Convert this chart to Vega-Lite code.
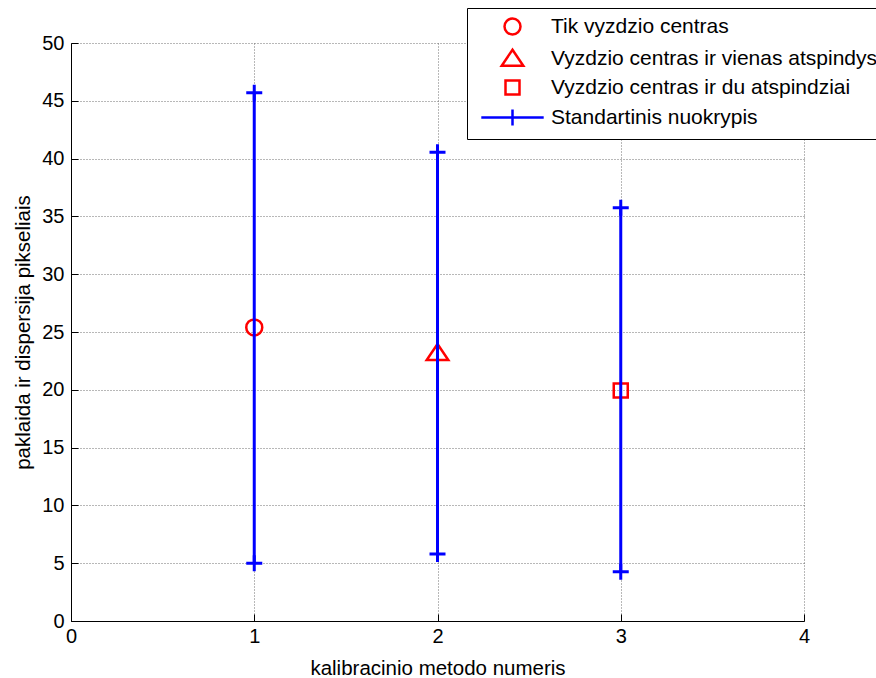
{
  "$schema": "https://vega.github.io/schema/vega-lite/v6.json",
  "width": 733,
  "height": 578,
  "autosize": {"type": "none"},
  "padding": {"left": 71, "top": 43, "right": 72, "bottom": 56},
  "background": "white",
  "config": {
    "font": "Liberation Sans",
    "view": {"stroke": null},
    "point": {"opacity": 1},
    "axis": {
      "domainColor": "black",
      "domainWidth": 1,
      "tickColor": "black",
      "tickSize": -7,
      "tickWidth": 1,
      "labelFontSize": 20,
      "labelColor": "black",
      "labelFont": "Liberation Sans",
      "titleFontSize": 20.5,
      "titleFont": "Liberation Sans",
      "titleFontWeight": "normal",
      "titleColor": "black",
      "gridColor": "#707070",
      "gridDash": [1, 2],
      "gridWidth": 1,
      "gridOpacity": 1
    }
  },
  "data": {
    "values": [
      {"x": 1, "series": "Tik vyzdzio centras", "value": 25.4, "lo": 5.0, "hi": 45.7},
      {"x": 2, "series": "Vyzdzio centras ir vienas atspindys", "value": 23.2, "lo": 5.8, "hi": 40.55},
      {"x": 3, "series": "Vyzdzio centras ir du atspindziai", "value": 19.95, "lo": 4.25, "hi": 35.75}
    ]
  },
  "layer": [
    {
      "mark": {"type": "point", "filled": false, "size": 256, "strokeWidth": 2.5, "opacity": 1},
      "encoding": {
        "x": {
          "field": "x", "type": "quantitative",
          "scale": {"domain": [0, 4], "nice": false},
          "axis": {"values": [0, 1, 2, 3, 4], "format": "d", "title": "kalibracinio metodo numeris", "grid": true, "labelFlush": false, "labelPadding": 12, "titlePadding": 12}
        },
        "y": {
          "field": "value", "type": "quantitative",
          "scale": {"domain": [0, 50], "nice": false},
          "axis": {"values": [0, 5, 10, 15, 20, 25, 30, 35, 40, 45, 50], "format": "d", "title": "paklaida ir dispersija pikseliais", "grid": true, "labelFlush": false, "labelPadding": 14, "titlePadding": 8}
        },
        "shape": {
          "field": "series", "type": "nominal",
          "scale": {
            "domain": ["Tik vyzdzio centras", "Vyzdzio centras ir vienas atspindys", "Vyzdzio centras ir du atspindziai", "Standartinis nuokrypis"],
            "range": [
              "M1,0A1,1,0,1,1,-1,0A1,1,0,1,1,1,0Z",
              "M0,-1.1L1.35,0.9L-1.35,0.9Z",
              "M-0.875,-0.875H0.875V0.875H-0.875Z",
              "M-3.9,0H3.9M0,-1V1"
            ]
          },
          "legend": {
            "orient": "none", "legendX": 396, "legendY": -35, "title": null,
            "strokeColor": "black", "fillColor": "white", "padding": 8,
            "labelFontSize": 21, "labelColor": "black", "labelFont": "Liberation Sans", "labelLimit": 600,
            "symbolSize": 256, "symbolStrokeWidth": 2.5, "symbolOffset": 27, "labelOffset": 28,
            "rowPadding": 4, "symbolFillColor": "transparent"
          }
        },
        "stroke": {
          "field": "series", "type": "nominal",
          "scale": {
            "domain": ["Tik vyzdzio centras", "Vyzdzio centras ir vienas atspindys", "Vyzdzio centras ir du atspindziai", "Standartinis nuokrypis"],
            "range": ["#ff0000", "#ff0000", "#ff0000", "#0000ff"]
          },
          "legend": {
            "orient": "none", "legendX": 396, "legendY": -35, "title": null,
            "strokeColor": "black", "fillColor": "white", "padding": 8,
            "labelFontSize": 21, "labelColor": "black", "labelFont": "Liberation Sans", "labelLimit": 600,
            "symbolSize": 256, "symbolStrokeWidth": 2.5, "symbolOffset": 27, "labelOffset": 28,
            "rowPadding": 4, "symbolFillColor": "transparent"
          }
        }
      }
    },
    {
      "mark": {"type": "rule", "color": "#0000ff", "strokeWidth": 3},
      "encoding": {
        "x": {"field": "x", "type": "quantitative"},
        "y": {"field": "lo", "type": "quantitative", "title": "paklaida ir dispersija pikseliais"},
        "y2": {"field": "hi"}
      }
    },
    {
      "mark": {"type": "point", "shape": "M-1,0H1M0,-1V1", "size": 256, "stroke": "#0000ff", "strokeWidth": 3, "filled": false, "opacity": 1},
      "encoding": {
        "x": {"field": "x", "type": "quantitative"},
        "y": {"field": "lo", "type": "quantitative", "title": "paklaida ir dispersija pikseliais"}
      }
    },
    {
      "mark": {"type": "point", "shape": "M-1,0H1M0,-1V1", "size": 256, "stroke": "#0000ff", "strokeWidth": 3, "filled": false, "opacity": 1},
      "encoding": {
        "x": {"field": "x", "type": "quantitative"},
        "y": {"field": "hi", "type": "quantitative", "title": "paklaida ir dispersija pikseliais"}
      }
    }
  ]
}
